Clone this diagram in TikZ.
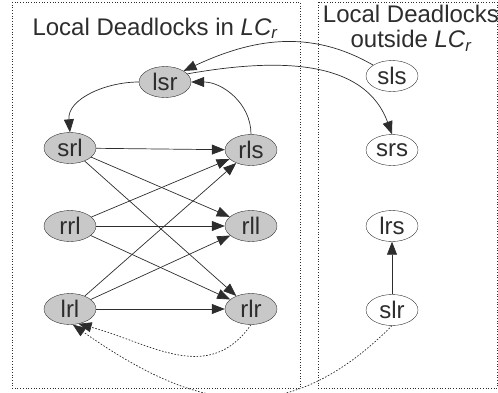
\documentclass[tikz,border=0pt]{standalone}
\usepackage{fontspec}
\setmainfont{Liberation Sans}
\usepackage{xcolor}
\usepackage{tikz}
\usetikzlibrary{shapes.geometric, arrows.meta, positioning}
\definecolor{nodegray}{RGB}{200,200,200}
\definecolor{ink}{RGB}{45,45,45}
\tikzstyle{inside} = [ellipse, minimum width=52pt, minimum height=31pt, inner sep=0pt, text centered, draw=ink, fill=nodegray, text=ink, font=\fontsize{24}{24}\selectfont]
\tikzstyle{outside} = [inside, fill=white]
\tikzstyle{region} = [draw=ink, dotted, line width=0.7pt]
\tikzstyle{arrow} = [line width=0.7pt, draw=ink, -{Triangle[length=13pt,width=10pt]}]
\tikzstyle{dotarrow} = [arrow, dash pattern=on 1.6pt off 1.6pt]

\begin{document}
\begin{tikzpicture}[x=1pt, y=-1pt]
\useasboundingbox (0,0) rectangle (498,392);

% the two regions
\draw [region] (12,2) rectangle (300,388);
\draw [region] (318,2) rectangle (497,388);
\node (titlein) [anchor=base, text=ink, font=\fontsize{24}{25}\selectfont] at (155,35) {Local Deadlocks in \textit{LC\textsubscript{r}}};
\node (titleout) [anchor=north, align=center, text=ink, font=\fontsize{24}{25}\selectfont, inner sep=0pt] at (411,5) {Local Deadlocks\\outside \textit{LC\textsubscript{r}}};

% deadlocks in LC_r
\node (lsr) [inside] at (165,82) {lsr};
\node (srl) [inside] at (70,148) {srl};
\node (rrl) [inside] at (70,226) {rrl};
\node (lrl) [inside] at (70,309) {lrl};
\node (rls) [inside] at (251,150) {rls};
\node (rll) [inside] at (251,226) {rll};
\node (rlr) [inside] at (251,309) {rlr};

% deadlocks outside LC_r
\node (sls) [outside] at (392,76) {sls};
\node (srs) [outside] at (392,150) {srs};
\node (lrs) [outside] at (392,226) {lrs};
\node (slr) [outside] at (392,310) {slr};

\draw [arrow] (lsr.west) to[out=180, in=95] (srl.north);
\draw [arrow] (rls.north) to[out=90, in=0] (lsr.east);
\draw [arrow] (sls.150) to[out=150, in=25] (lsr.north east);
\draw [arrow] (lsr.20) to[out=10, in=110] (srs.north);
\draw [arrow] (slr) -- (lrs);

\foreach \src in {srl, rrl, lrl}
  \foreach \dst in {rls, rll, rlr}
    \draw [arrow] (\src) -- (\dst);

\draw [dotarrow] (rlr.south) to[out=235, in=-15, looseness=1.1] (lrl.-60);
\draw [dotarrow] (slr.south) to[out=225, in=-35, looseness=1.2] (lrl.-80);

\end{tikzpicture}
\end{document}
